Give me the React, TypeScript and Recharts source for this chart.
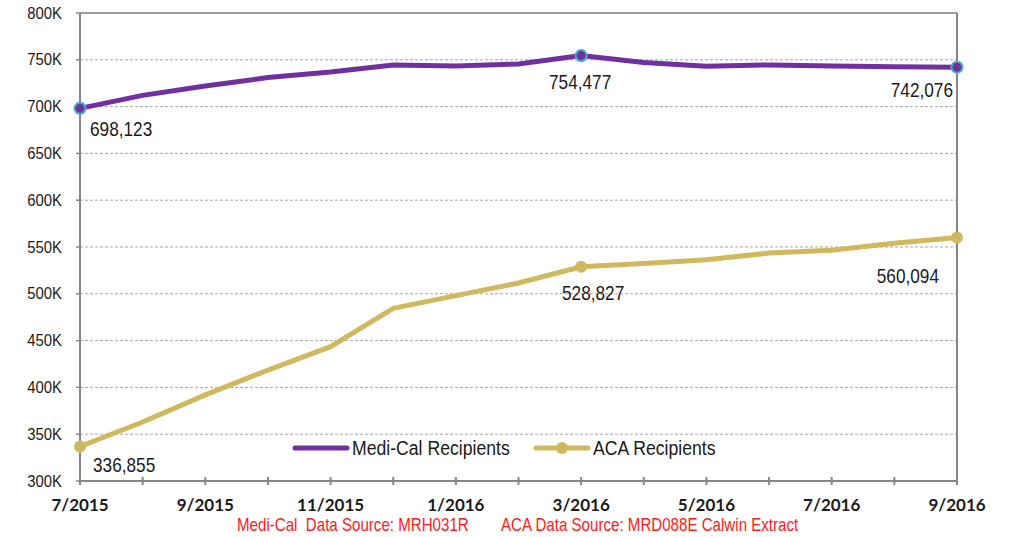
import React from 'react';
import { LineChart, Line, XAxis, YAxis, CartesianGrid, ReferenceLine, Legend, LabelList } from 'recharts';

const months = ['7/2015', '8/2015', '9/2015', '10/2015', '11/2015', '12/2015', '1/2016', '2/2016', '3/2016', '4/2016', '5/2016', '6/2016', '7/2016', '8/2016', '9/2016'];
const mediCal = [698123, 712000, 722000, 731000, 737000, 744500, 743500, 745500, 754477, 747000, 743000, 744500, 743500, 742500, 742076];
const aca = [336855, 363000, 392000, 418500, 443500, 484500, 498000, 511500, 528827, 532500, 536500, 543500, 546500, 554000, 560094];
const yTicks = [300000, 350000, 400000, 450000, 500000, 550000, 600000, 650000, 700000, 750000, 800000];
const markedIdx = [0, 8, 14];

const data = months.map((m, i) => ({ month: m, medi: mediCal[i], aca: aca[i] }));

const PURPLE = '#7030A0';
const GOLD = '#CFB85E';
const RING = '#4BACC6';
const AXIS = '#868686';
const SANS = "'Liberation Sans', Arial, sans-serif";

type Anchor = 'start' | 'middle' | 'end';

const NText = ({ x, y, anchor = 'start', size, fill = '#1a1a1a', scale = 0.82, children }: any) => (
  <text
    transform={`translate(${x},${y}) scale(${scale},1)`}
    x={0}
    y={0}
    textAnchor={anchor}
    fontFamily={SANS}
    fontSize={size}
    fill={fill}
    style={{ whiteSpace: 'pre' }}
  >
    {children}
  </text>
);

const mediLabelPos: Record<number, { dx: number; dy: number; anchor: Anchor }> = {
  0: { dx: 10, dy: 28, anchor: 'start' },
  8: { dx: -1, dy: 33, anchor: 'middle' },
  14: { dx: -4, dy: 30, anchor: 'end' },
};
const acaLabelPos: Record<number, { dx: number; dy: number; anchor: Anchor }> = {
  0: { dx: 13, dy: 25, anchor: 'start' },
  8: { dx: 12, dy: 33, anchor: 'middle' },
  14: { dx: -18, dy: 45, anchor: 'end' },
};

const makeLabel = (pos: typeof mediLabelPos) => (props: any) => {
  const { x, y, value, index } = props;
  const p = pos[index];
  if (!p) return null;
  return (
    <NText x={x + p.dx} y={y + p.dy} anchor={p.anchor} size={21}>
      {Number(value).toLocaleString('en-US')}
    </NText>
  );
};

const XTick = (props: any) => {
  const { x, y, payload, index } = props;
  return (
    <g>
      <line x1={x} x2={x} y1={y - 4} y2={y + 4} stroke={AXIS} strokeWidth={2} />
      {index % 2 === 0 && (
        <text x={x} y={y + 30} textAnchor="middle" fontFamily="Lato, sans-serif" fontWeight={700} fontSize={17} fill="#1a1a1a">
          {payload.value}
        </text>
      )}
    </g>
  );
};

const YTick = (props: any) => {
  const { x, y, payload } = props;
  return (
    <NText x={x} y={y + 5.5} anchor="end" size={16} scale={0.93}>
      {`${payload.value / 1000}K`}
    </NText>
  );
};

const mediDot = (props: any) => {
  const { cx, cy, index } = props;
  if (!markedIdx.includes(index)) return <g key={`md${index}`} />;
  return <circle key={`md${index}`} cx={cx} cy={cy} r={5.5} fill={PURPLE} stroke={RING} strokeWidth={2} />;
};
const acaDot = (props: any) => {
  const { cx, cy, index } = props;
  if (!markedIdx.includes(index)) return <g key={`ad${index}`} />;
  return <circle key={`ad${index}`} cx={cx} cy={cy} r={6} fill={GOLD} />;
};

const LegendContent = () => (
  <svg width={480} height={30} style={{ display: 'block', overflow: 'visible' }}>
    <line x1={7} x2={59} y1={14} y2={14} stroke={PURPLE} strokeWidth={5} strokeLinecap="round" />
    <NText x={64} y={21} size={21} scale={0.84}>Medi-Cal Recipients</NText>
    <line x1={248} x2={300} y1={14} y2={14} stroke={GOLD} strokeWidth={5} strokeLinecap="round" />
    <circle cx={274} cy={14} r={6} fill={GOLD} />
    <NText x={305} y={21} size={21} scale={0.84}>ACA Recipients</NText>
  </svg>
);

export default function App() {
  return (
    <div style={{ position: 'absolute', left: 0, top: 0, width: 1010, height: 537, background: '#fff' }}>
      <LineChart width={1010} height={537} data={data} margin={{ top: 13, right: 53, left: 0, bottom: 26 }}>
        <CartesianGrid vertical={false} stroke="#a6a6a6" strokeDasharray="3 2" />
        <ReferenceLine y={800000} stroke={AXIS} strokeWidth={1.5} />
        <ReferenceLine x="9/2016" stroke={AXIS} strokeWidth={2} />
        <XAxis
          dataKey="month"
          interval={0}
          height={30}
          tickSize={0}
          tickMargin={0}
          tickLine={false}
          axisLine={{ stroke: AXIS, strokeWidth: 2 }}
          tick={<XTick />}
        />
        <YAxis
          width={80}
          domain={[300000, 800000]}
          ticks={yTicks}
          interval={0}
          tickSize={4}
          tickMargin={14}
          tickLine={{ stroke: AXIS, strokeWidth: 1.5 }}
          axisLine={{ stroke: AXIS, strokeWidth: 2 }}
          tick={<YTick />}
        />
        <Legend
          layout="horizontal"
          verticalAlign="middle"
          align="center"
          wrapperStyle={{ position: 'absolute', top: 434, left: 288, width: 480 }}
          content={<LegendContent />}
        />
        <Line dataKey="medi" name="Medi-Cal Recipients" stroke={PURPLE} strokeWidth={5} dot={mediDot} activeDot={false} isAnimationActive={false}>
          <LabelList dataKey="medi" content={makeLabel(mediLabelPos)} />
        </Line>
        <Line dataKey="aca" name="ACA Recipients" stroke={GOLD} strokeWidth={5} dot={acaDot} activeDot={false} isAnimationActive={false}>
          <LabelList dataKey="aca" content={makeLabel(acaLabelPos)} />
        </Line>
      </LineChart>
      <svg width={1010} height={537} style={{ position: 'absolute', left: 0, top: 0, pointerEvents: 'none' }}>
        <NText x={237} y={531} size={18} scale={0.84} fill="#FF1A1A">Medi-Cal  Data Source: MRH031R</NText>
        <NText x={501} y={531} size={18} scale={0.84} fill="#FF1A1A">ACA Data Source: MRD088E Calwin Extract</NText>
      </svg>
    </div>
  );
}
